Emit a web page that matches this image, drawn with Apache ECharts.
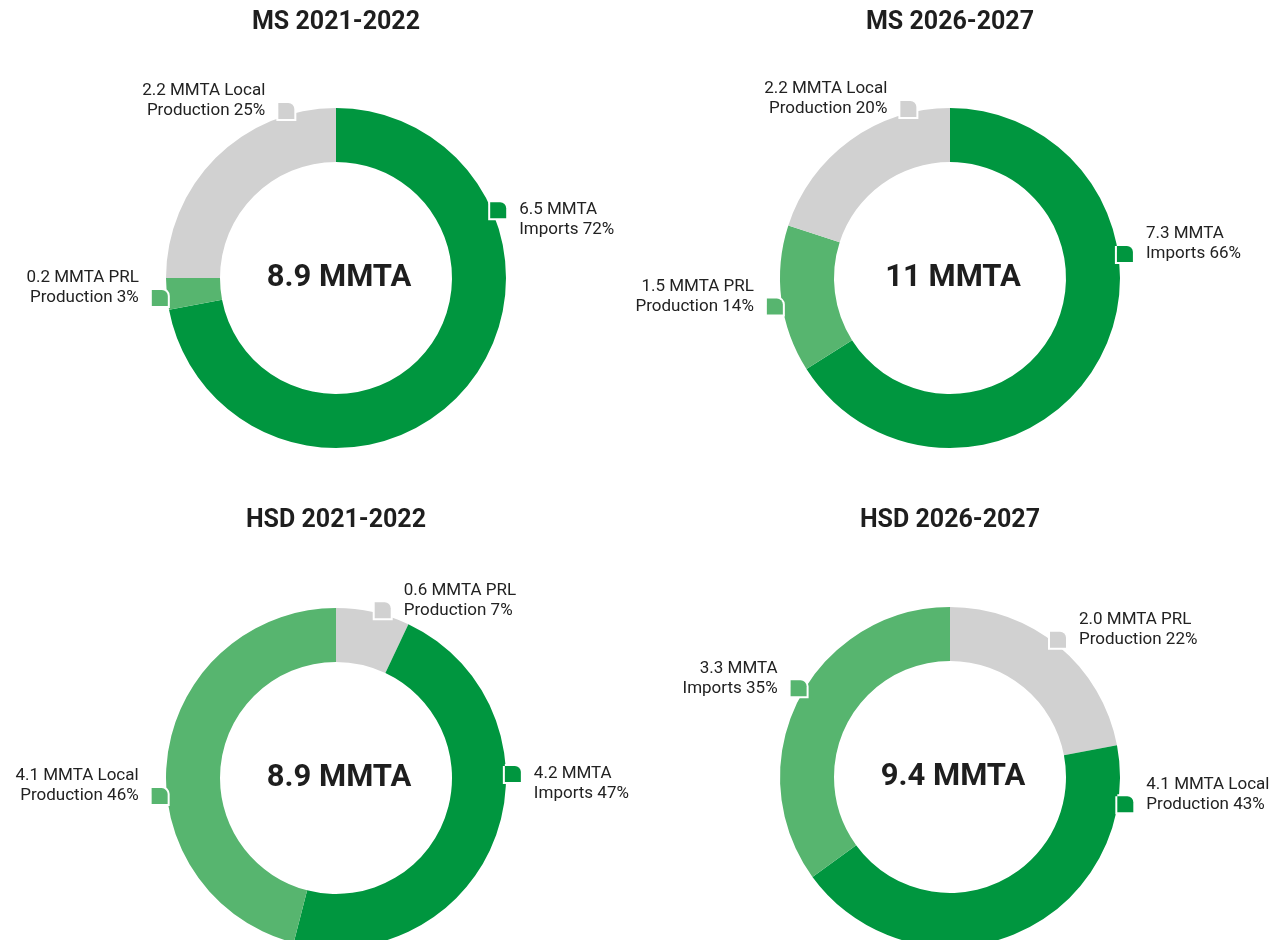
<!DOCTYPE html>
<html>
<head>
<meta charset="utf-8">
<script src="https://cdn.jsdelivr.net/npm/echarts@6/dist/echarts.min.js"></script>
<style>
  html, body, #main {
    width: 100%;
    height: 100%;
    margin: 0;
    background: #fff;
  }
</style>
</head>
<body>
<div id="main"></div>
<script>
// values
const titles = ['MS 2021-2022', 'MS 2026-2027', 'HSD 2021-2022', 'HSD 2026-2027']
const totals = ['8.9 MMTA', '11 MMTA', '8.9 MMTA', '9.4 MMTA']

const msNames = ['Imports', 'PRL Production', 'Local Production']
const ms2122Mmta = [6.5, 0.2, 2.2]
const ms2122Share = [72, 3, 25]
const ms2627Mmta = [7.3, 1.5, 2.2]
const ms2627Share = [66, 14, 20]

const hsd2122Names = ['PRL Production', 'Imports', 'Local Production']
const hsd2122Mmta = [0.6, 4.2, 4.1]
const hsd2122Share = [7, 47, 46]
const hsd2627Names = ['PRL Production', 'Local Production', 'Imports']
const hsd2627Mmta = [2.0, 4.1, 3.3]
const hsd2627Share = [22, 43, 35]

const DARK = '#00963f'
const LIGHT = '#57b56f'
const GREY = '#d1d1d1'
const FONT = 'Roboto'

// where each donut sits and where its labels hang (angle clockwise from top)
const pies = [
  { names: msNames, mmta: ms2122Mmta, share: ms2122Share, center: [336, 278],
    colors: [DARK, LIGHT, GREY], angles: [66.4, 264.5, 343.7], markerLine: [1, 2, 2] },
  { names: msNames, mmta: ms2627Mmta, share: ms2627Share, center: [950, 278],
    colors: [DARK, LIGHT, GREY], angles: [81.2, 261.7, 346.4], markerLine: [2, 2, 2] },
  { names: hsd2122Names, mmta: hsd2122Mmta, share: hsd2122Share, center: [336, 778],
    colors: [GREY, DARK, LIGHT], angles: [15.3, 87.7, 265.1], markerLine: [2, 1, 2] },
  { names: hsd2627Names, mmta: hsd2627Mmta, share: hsd2627Share, center: [950, 777],
    colors: [GREY, DARK, LIGHT], angles: [37.6, 97.9, 301.2], markerLine: [2, 2, 2] }
]

const ANCHOR_R = 177
const LINE_H = 20
const TEXT_DY = 3

const labelLines = (name, v, pct) => {
  let words = name.split(' ')
  let l1 = v.toFixed(1) + ' MMTA' + (words.length > 1 ? ' ' + words[0] : '')
  let l2 = (words.length > 1 ? words.slice(1).join(' ') : words[0]) + ' ' + pct + '%'
  return [l1, l2]
}

const makeRich = color => ({
  t: { fontFamily: FONT, fontSize: 17, color: '#222', lineHeight: LINE_H },
  m: { width: 16, height: 16, backgroundColor: color, borderColor: '#fff', borderWidth: 2,
       borderRadius: [0, 6, 0, 0], lineHeight: LINE_H },
  sp: { width: 13, lineHeight: LINE_H },
  bl: { width: 29, lineHeight: LINE_H }
})

const series = pies.map((p, s) => ({
  type: 'pie',
  center: p.center,
  radius: [116, 170],
  startAngle: 90,
  clockwise: true,
  silent: true,
  labelLine: { show: false },
  data: p.names.map((n, i) => {
    let right = p.angles[i] < 180
    let lines = labelLines(n, p.mmta[i], p.share[i])
    let parts = lines.map((txt, k) => {
      let hasMark = p.markerLine[i] === k + 1
      if (right) return (hasMark ? '{m|}{sp|}' : '{bl|}') + '{t|' + txt + '}'
      return '{t|' + txt + '}' + (hasMark ? '{sp|}{m|}' : '{bl|}')
    })
    return {
      name: n,
      value: p.share[i],
      itemStyle: { color: p.colors[i] },
      label: {
        show: true,
        position: 'outside',
        overflow: 'none',
        formatter: parts.join('\n'),
        rich: makeRich(p.colors[i])
      }
    }
  }),
  labelLayout: params => {
    let i = params.dataIndex
    let a = p.angles[i] * Math.PI / 180
    let ax = p.center[0] + ANCHOR_R * Math.sin(a)
    let ay = p.center[1] - ANCHOR_R * Math.cos(a) + TEXT_DY
    let right = p.angles[i] < 180
    let first = p.markerLine[i] === 1
    return {
      x: right ? ax - 8 : ax + 8,
      y: first ? ay - LINE_H / 2 : ay + LINE_H / 2,
      align: right ? 'left' : 'right',
      verticalAlign: first ? 'top' : 'bottom'
    }
  }
}))

const titleList = []
pies.forEach((p, s) => {
  titleList.push({
    text: titles[s],
    left: p.center[0],
    top: s < 2 ? 10 : 508,
    padding: 0,
    textAlign: 'center',
    textStyle: { fontFamily: FONT, fontSize: 25, fontWeight: 'bold', color: '#1e1e1e' }
  })
  titleList.push({
    text: totals[s],
    left: p.center[0] + 3,
    top: p.center[1] - 15,
    padding: 0,
    textAlign: 'center',
    textStyle: { fontFamily: FONT, fontSize: 31, fontWeight: 'bold', color: '#1e1e1e' }
  })
})

const chart = echarts.init(document.getElementById('main'))
chart.setOption({
  animation: false,
  title: titleList,
  series: series
})
</script>
</body>
</html>
